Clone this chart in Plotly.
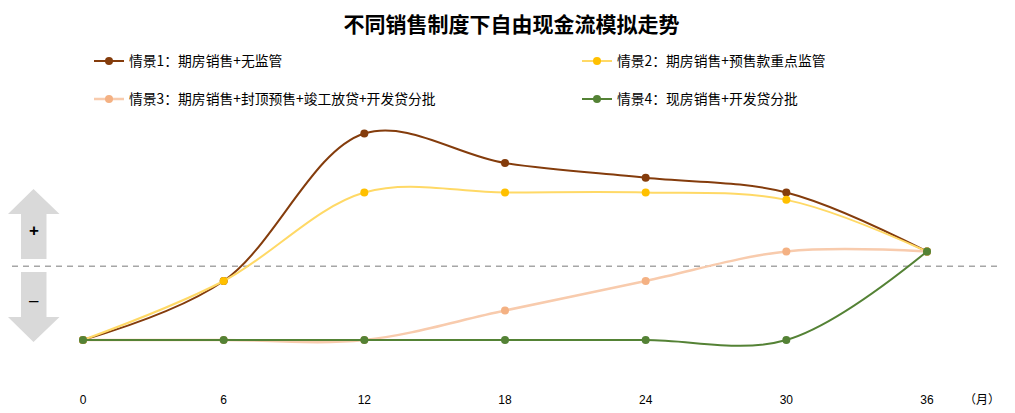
import plotly.graph_objects as go

# page body has an 8px margin, so figure pixel = screen pixel - 8
OFF = 8
W, H = 1015 - OFF, 413 - OFF

months = [0, 6, 12, 18, 24, 30, 36]
names = ['情景1：期房销售+无监管', '情景2：期房销售+预售款重点监管',
         '情景3：期房销售+封顶预售+竣工放贷+开发贷分批', '情景4：现房销售+开发贷分批']
s1 = [0, 2, 7, 6, 5.5, 5, 3]
s2 = [0, 2, 5, 5, 5, 4.75, 3]
s3 = [0, 0, 0, 1, 2, 3, 3]
s4 = [0, 0, 0, 0, 0, 0, 3]
baseline = 2.5

line_cols = ['#843C0C', '#FFD966', '#F8CBAD', '#548235']
mark_cols = ['#843C0C', '#FFC000', '#F4B183', '#548235']
widths = [2, 2, 2.5, 2]
legends = ['legend', 'legend', 'legend2', 'legend2']
# first column entries are wide so the second column lines up
leg_widths = [443, 260, 443, 260]

FONT = 'Noto Sans CJK SC, Arial, sans-serif'

# plot area spans the full width; bottom margin holds tick labels
B = 22
plot_h = H - B
x0_px, x36_px = 83 - OFF, 927 - OFF
ppu_x = (x36_px - x0_px) / 36
y0_px, ppu_y = 340 - OFF, 29.5


def px(x, y):
    # screen pixel -> paper coords (for decorations)
    return (x - OFF) / W, (plot_h - (y - OFF)) / plot_h


fig = go.Figure()
for i, ys in enumerate([s1, s2, s3, s4]):
    fig.add_trace(go.Scatter(
        x=months, y=ys, name=names[i], mode='lines+markers',
        line=dict(color=line_cols[i], width=widths[i], shape='spline'),
        marker=dict(color=mark_cols[i], size=8),
        legend=legends[i], legendwidth=leg_widths[i], hoverinfo='skip'))

# dashed zero line
fig.add_shape(type='line', xref='paper', yref='y', x0=px(12, 0)[0], x1=px(1000, 0)[0],
              y0=baseline, y1=baseline,
              line=dict(color='#A6A6A6', width=1.5, dash='6px,5px'), layer='below')


def path(pts):
    s = ''
    for k, (a, b) in enumerate(pts):
        u, v = px(a, b)
        s += ('M' if k == 0 else 'L') + f'{u:.5f},{v:.5f} '
    return s + 'Z'


up = [(33.5, 189), (59.5, 214), (46.5, 214), (46.5, 259), (21, 259), (21, 214), (8, 214)]
down = [(21, 272), (46.5, 272), (46.5, 317), (59.5, 317), (33.5, 342), (8, 317), (21, 317)]
for p in [up, down]:
    fig.add_shape(type='path', xref='paper', yref='paper', path=path(p),
                  fillcolor='#D9D9D9', line=dict(width=0), layer='below')

for txt, (a, b) in [('<b>+</b>', (33.5, 230)), ('–', (34, 300))]:
    u, v = px(a, b)
    fig.add_annotation(x=u, y=v, xref='paper', yref='paper', text=txt, showarrow=False,
                       xanchor='center', yanchor='middle',
                       font=dict(size=17, color='#000000', family='Arial'))

u, v = px(982, 398)
fig.add_annotation(x=u, y=v, xref='paper', yref='paper', text='（月）', showarrow=False,
                   xanchor='center', yanchor='middle',
                   font=dict(size=12, color='#000000', family=FONT))

lx1, ly1 = px(89, 61)
lx2, ly2 = px(89, 99)
leg = dict(orientation='h', xanchor='left', yanchor='middle',
           entrywidthmode='pixels', bgcolor='rgba(0,0,0,0)',
           font=dict(size=13.8, color='#000000', family=FONT))

fig.update_layout(
    width=W, height=H,
    margin=dict(l=0, r=0, t=0, b=B),
    plot_bgcolor='white', paper_bgcolor='white',
    title=dict(text='<b>不同销售制度下自由现金流模拟走势</b>', x=0.5, xanchor='center',
               y=1 - (25 - OFF) / H, yanchor='middle', yref='container',
               font=dict(size=21, color='#000000', family=FONT)),
    legend=dict(leg, x=lx1, y=ly1),
    legend2=dict(leg, x=lx2, y=ly2),
    xaxis=dict(range=[-x0_px / ppu_x, 36 + (W - x36_px) / ppu_x], tickvals=months,
               showgrid=False, zeroline=False, showline=False,
               tickfont=dict(size=12, color='#000000', family='Arial')),
    yaxis=dict(range=[-(plot_h - y0_px) / ppu_y, y0_px / ppu_y], visible=False,
               showgrid=False, zeroline=False),
)

fig.write_html('out.html')
